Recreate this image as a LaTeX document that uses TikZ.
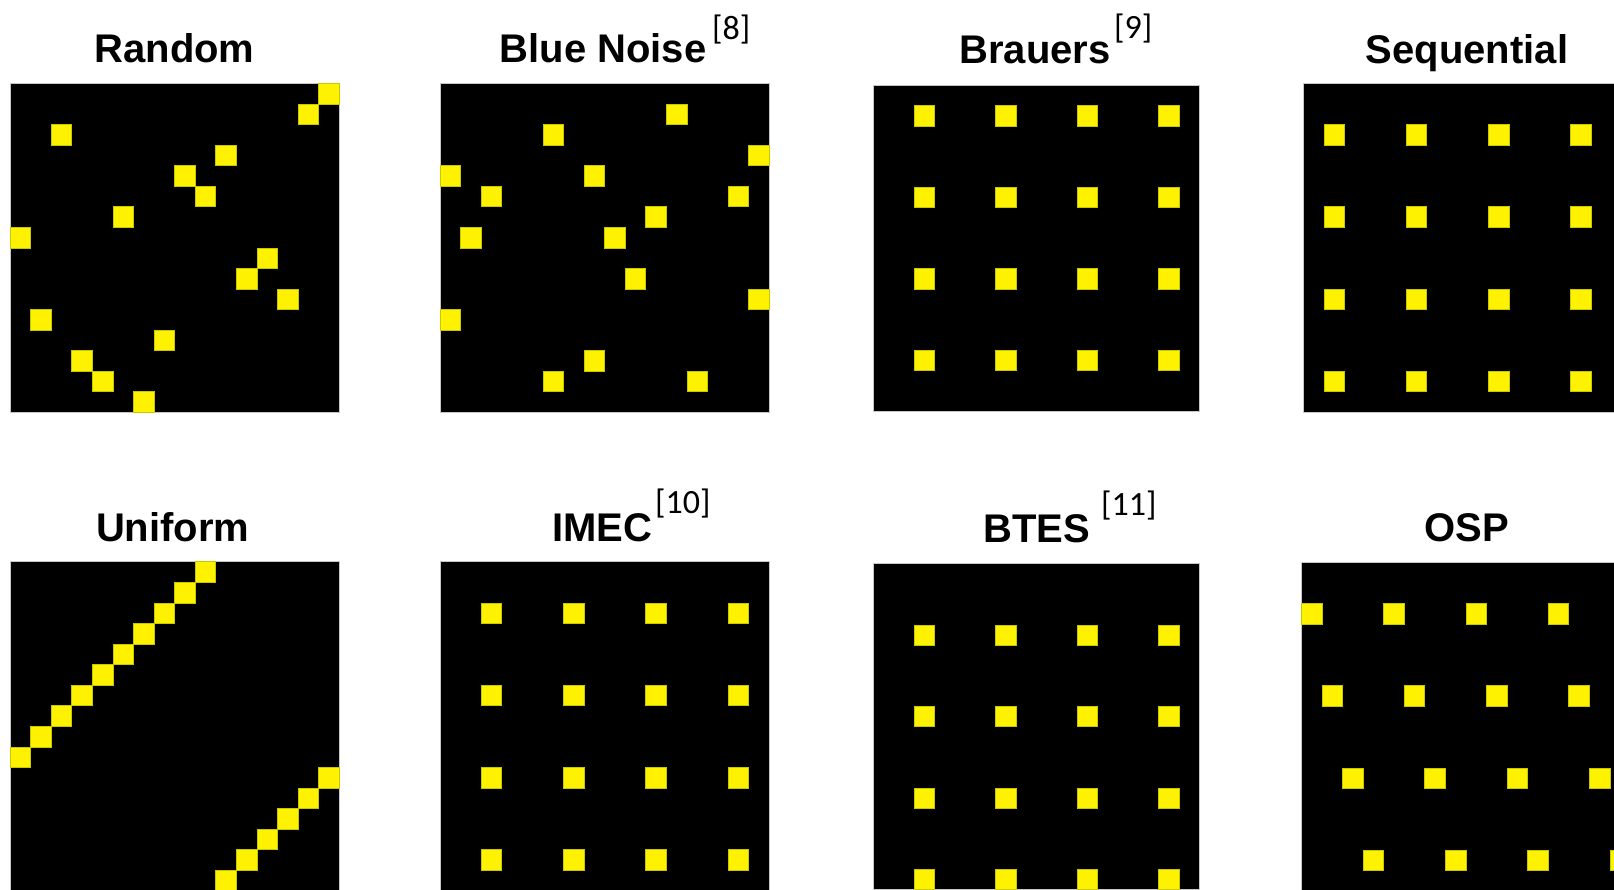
\documentclass[tikz,border=0pt]{standalone}
\usepackage{fontspec}
\setmainfont{Liberation Sans}
\newfontfamily\supfont{Carlito}
\tikzset{
  panel/.style={fill=black, draw=black!22, line width=0.8pt, inner sep=0pt, outer sep=0pt, anchor=north west},
  cell/.style={fill=yellow, draw={rgb,255:red,200;green,200;blue,0}, line width=0.5pt},
  ttl/.style={font=\fontsize{40}{44}\selectfont\bfseries, anchor=base, inner sep=0pt},
  suptxt/.style={font=\supfont\fontsize{34}{38}\selectfont, anchor=base west, inner sep=0pt},
}
% name, x, y, size, list of col/row
\newcommand\listpanel[5]{%
  \node[panel, minimum width=#4pt, minimum height=#4pt] (#1) at (#2,#3) {};
  \pgfmathsetmacro\cs{#4/16}%
  \foreach \c/\r in {#5} {\path[cell] (#2+\c*\cs, #3+\r*\cs) rectangle ++(\cs,\cs);}
}
% name, x, y, size, first col, first row  (4x4 grid, step 4)
\newcommand\gridpanel[6]{%
  \node[panel, minimum width=#4pt, minimum height=#4pt] (#1) at (#2,#3) {};
  \pgfmathsetmacro\cs{#4/16}%
  \foreach \i in {0,...,3} {\foreach \j in {0,...,3} {%
    \path[cell] (#2+#5*\cs+4*\i*\cs, #3+#6*\cs+4*\j*\cs) rectangle ++(\cs,\cs);}}
}
\begin{document}
\begin{tikzpicture}[x=1pt,y=-1pt]
\useasboundingbox (0,0) rectangle (1614,890);
\clip (0,0) rectangle (1614,890);
\fill[white] (0,0) rectangle (1614,890);

% top row
\listpanel{random}{10}{83.3}{329}{15/0,14/1,2/2,10/3,8/4,9/5,5/6,0/7,12/8,11/9,13/10,1/11,7/12,3/13,4/14,6/15}
\listpanel{bluenoise}{440}{83.3}{329}{11/1,5/2,15/3,0/4,7/4,2/5,14/5,10/6,1/7,8/7,9/9,15/10,0/11,7/13,5/14,12/14}
\gridpanel{brauers}{873.3}{85.3}{326}{2}{1}
\gridpanel{sequential}{1303.3}{83.3}{329}{1}{2}

% bottom row
\listpanel{uniform}{10}{561.7}{329}{9/0,8/1,7/2,6/3,5/4,4/5,3/6,2/7,1/8,0/9,15/10,14/11,13/12,12/13,11/14,10/15}
\gridpanel{imec}{440}{561.7}{329}{2}{2}
\gridpanel{btes}{873.3}{563.7}{326}{2}{3}
\listpanel{osp}{1301.3}{562.3}{329}{0/2,4/2,8/2,12/2,1/6,5/6,9/6,13/6,2/10,6/10,10/10,14/10,3/14,7/14,11/14,15/14}

% titles
\node[ttl] (tRandom) at (174.5,62.3) {Random};
\node[ttl] (tBlue) at (603,62.3) {Blue Noise};
\node[suptxt] (sBlue) at (712,40) {[8]};
\node[ttl] (tBrauers) at (1035,63.3) {Brauers};
\node[suptxt] (sBrauers) at (1114,39) {[9]};
\node[ttl] (tSeq) at (1467,63.3) {Sequential};

\node[ttl] (tUniform) at (172.7,541) {Uniform};
\node[ttl] (tIMEC) at (602.5,541) {IMEC};
\node[suptxt] (sIMEC) at (655,513) {[10]};
\node[ttl] (tBTES) at (1036.7,542.3) {BTES};
\node[suptxt] (sBTES) at (1101,515) {[11]};
\node[ttl] (tOSP) at (1466.7,541) {OSP};
\end{tikzpicture}
\end{document}
